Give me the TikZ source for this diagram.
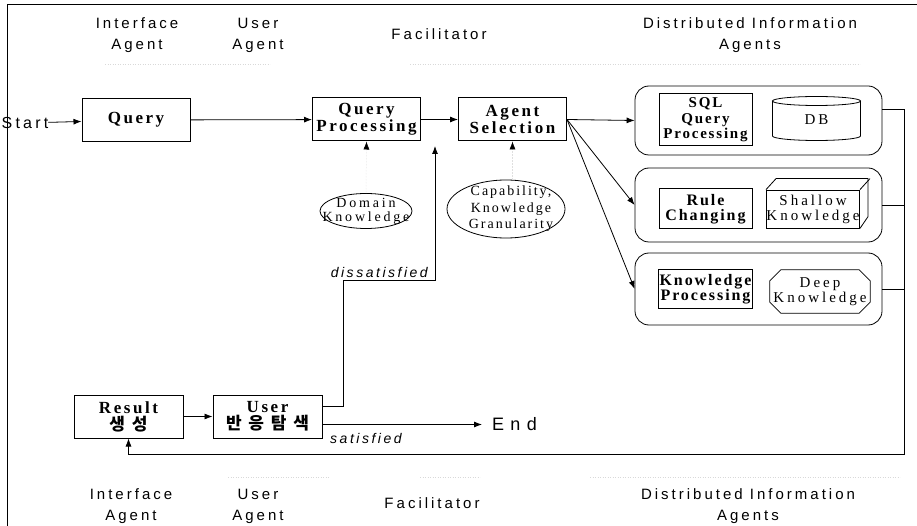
\documentclass[tikz,border=0pt]{standalone}
\usepackage{fontspec}
\setmainfont{Liberation Serif}
\setsansfont{Liberation Sans}
\newfontfamily\hdrfont{Liberation Sans}[LetterSpace=20]
\newfontfamily\endfont{Liberation Sans}[LetterSpace=35]
\newfontfamily\notefont{Liberation Sans}[LetterSpace=18]
\newfontfamily\boxfont{Liberation Serif}[LetterSpace=15]
\newfontfamily\inboxfont{Liberation Serif}[LetterSpace=12]
\newfontfamily\knfont{Liberation Serif}[LetterSpace=20]
\newfontfamily\capfont{Liberation Serif}[LetterSpace=14]
\newfontfamily\krfont{Noto Sans CJK KR}[LetterSpace=40]
\usetikzlibrary{arrows.meta,shapes.geometric}

\begin{document}
\begin{tikzpicture}[x=1pt,y=-1pt,
  lbl/.style={font=\hdrfont\fontsize{15}{21}\selectfont, align=center, inner sep=0pt},
  box/.style={draw, line width=1pt, minimum width=108pt, minimum height=43pt,
    align=center, inner sep=1pt, font=\boxfont\bfseries\fontsize{17}{17}\selectfont},
  inbox/.style={box, minimum width=93pt, font=\inboxfont\bfseries\fontsize{16}{15}\selectfont},
  group/.style={draw, line width=0.8pt, rounded corners=14pt, minimum width=247pt, inner sep=0pt},
  store/.style={align=center, inner sep=0pt, font=\knfont\fontsize{15}{15}\selectfont},
  oval/.style={draw, line width=0.8pt, ellipse, inner sep=0pt},
  link/.style={line width=0.8pt},
  flow/.style={line width=0.8pt, -{Latex[length=8pt,width=6pt]}},
  hint/.style={line width=0.5pt, densely dotted, draw=gray!25, -{Latex[length=8pt,width=6pt,color=black]}},
  guide/.style={line width=0.5pt, dotted, draw=gray!30},
  note/.style={font=\notefont\itshape\fontsize{14}{16}\selectfont, inner sep=0pt}
]
\useasboundingbox (0,0) rectangle (917,526);

% frame
\draw[link] (917,4) -- (7,4) -- (7,526);

% column headings
\node[lbl] (hIA) at (137,35) {Interface\\Agent};
\node[lbl] (hUA) at (258,35) {User\\Agent};
\node[lbl] (hF)  at (439,34) {Facilitator};
\node[lbl] (hD)  at (750,35) {Distributed Information\\Agents};
\draw[guide] (105,64) -- (270,64);
\draw[guide] (410,64) -- (860,64);

% column footers
\node[lbl] (fIA) at (131,506) {Interface\\Agent};
\node[lbl] (fUA) at (258,506) {User\\Agent};
\node[lbl] (fF)  at (432,503) {Facilitator};
\node[lbl] (fD)  at (748,506) {Distributed Information\\Agents};
\draw[guide] (228,477) -- (330,477);
\draw[guide] (420,477) -- (480,477);
\draw[guide] (590,477) -- (900,477);

% main flow
\node[font=\hdrfont\fontsize{16}{17}\selectfont, inner sep=0pt] (start) at (25,123) {Start};
\node[box] (query) at (136,120) {Query};
\node[box] (qp) at (366.5,119.5) {Query\\Processing};
\node[box] (as) at (512.5,119.5) {Agent\\Selection};

% knowledge sources of the facilitator
\node[oval, minimum width=92pt, minimum height=35pt] (dom) at (366,211) {};
\node[store, font=\knfont\fontsize{14}{14}\selectfont] (domtxt) at (dom.center) {Domain\\Knowledge};
\node[oval, minimum width=118pt, minimum height=58pt] (cap) at (506,209) {};
\node[store, font=\capfont\fontsize{14}{16.5}\selectfont] (captxt) at (511,209) {Capability,\\Knowledge\\Granularity};

% distributed information agents
\node[group, minimum height=69pt] (g1) at (758.5,120.5) {};
\node[group, minimum height=74pt] (g2) at (758.5,205) {};
\node[group, minimum height=72pt] (g3) at (758.5,289) {};

\node[inbox, minimum height=52pt, font=\inboxfont\bfseries\fontsize{15}{15.5}\selectfont] (sql) at (705.5,120) {SQL\\Query\\Processing};
\node[store] (db) at (816.5,120) {DB};
\draw[link] (772.5,101) -- (772.5,136) arc[start angle=180, end angle=360, x radius=44pt, y radius=4.5pt]
  -- (860.5,101);
\draw[link] (816.5,101) ellipse [x radius=44pt, y radius=4.5pt];

\node[inbox, minimum height=40pt] (rule) at (705.5,209) {Rule\\Changing};
\node[store, draw, line width=0.8pt, minimum width=92pt, minimum height=38pt] (shallow) at (813,209) {Shallow\\Knowledge};
\draw[link] (shallow.north west) -- ++(10,-11) -- ++(92,0) -- ++(0,38) -- (shallow.south east);
\draw[link] (shallow.north east) -- ++(10,-11);

\node[inbox, minimum height=39pt] (kp) at (705.5,289) {Knowledge\\Processing};
\node[store, minimum width=100pt, minimum height=43pt] (deep) at (820,291.5) {Deep\\Knowledge};
\draw[link] ([xshift=11pt]deep.north west) -- ([xshift=-11pt]deep.north east)
  -- ([yshift=-11pt]deep.north east) -- ([yshift=11pt]deep.south east)
  -- ([xshift=-11pt]deep.south east) -- ([xshift=11pt]deep.south west)
  -- ([yshift=11pt]deep.south west) -- ([yshift=-11pt]deep.north west) -- cycle;

% interface and user agents
\node[box, minimum width=109pt] (res) at (128.5,416.5) {Result\\{\krfont 생성}};
\node[box, minimum width=109pt] (user) at (267.5,416.5) {User\\{\krfont 반응탐색}};
\node[font=\endfont\fontsize{18}{20}\selectfont, inner sep=0pt, anchor=west] (end) at (492,424.5) {End};

% connectors
\draw[flow] (start) -- (query);
\draw[flow] (query) -- (qp);
\draw[flow] (qp) -- (as);
\draw[flow] (as.east) -- (g1.west);
\draw[flow] (as.east) -- (g2.west);
\draw[flow] (as.east) -- (g3.west);
\draw[hint] (dom.north) -- (qp.south);
\draw[hint] (as.south |- cap.north) -- (as.south);

\coordinate (rtop) at (904,109.5);
\coordinate (rbot) at (904,454);
\draw[flow] ([yshift=11pt]g1.east) -- (rtop) -- (rbot) -| (res.south);
\draw[link] (g2.east) -- (g2.east -| rtop);
\draw[link] (g3.east) -- (g3.east -| rtop);

\draw[flow] (res) -- (user);
\coordinate (dturn) at (343,280);
\coordinate (dtip) at (435,146);
\draw[flow] ([yshift=10pt]user.east) -| (dturn) -| (dtip);
\node[note, anchor=base east] (dis) at (428,277) {dissatisfied};
\draw[flow] ([yshift=-8pt]user.east) -- ([xshift=-10pt]end.west |- 0,424.5);
\node[note, anchor=base west] (sat) at (330,443) {satisfied};
\end{tikzpicture}
\end{document}
